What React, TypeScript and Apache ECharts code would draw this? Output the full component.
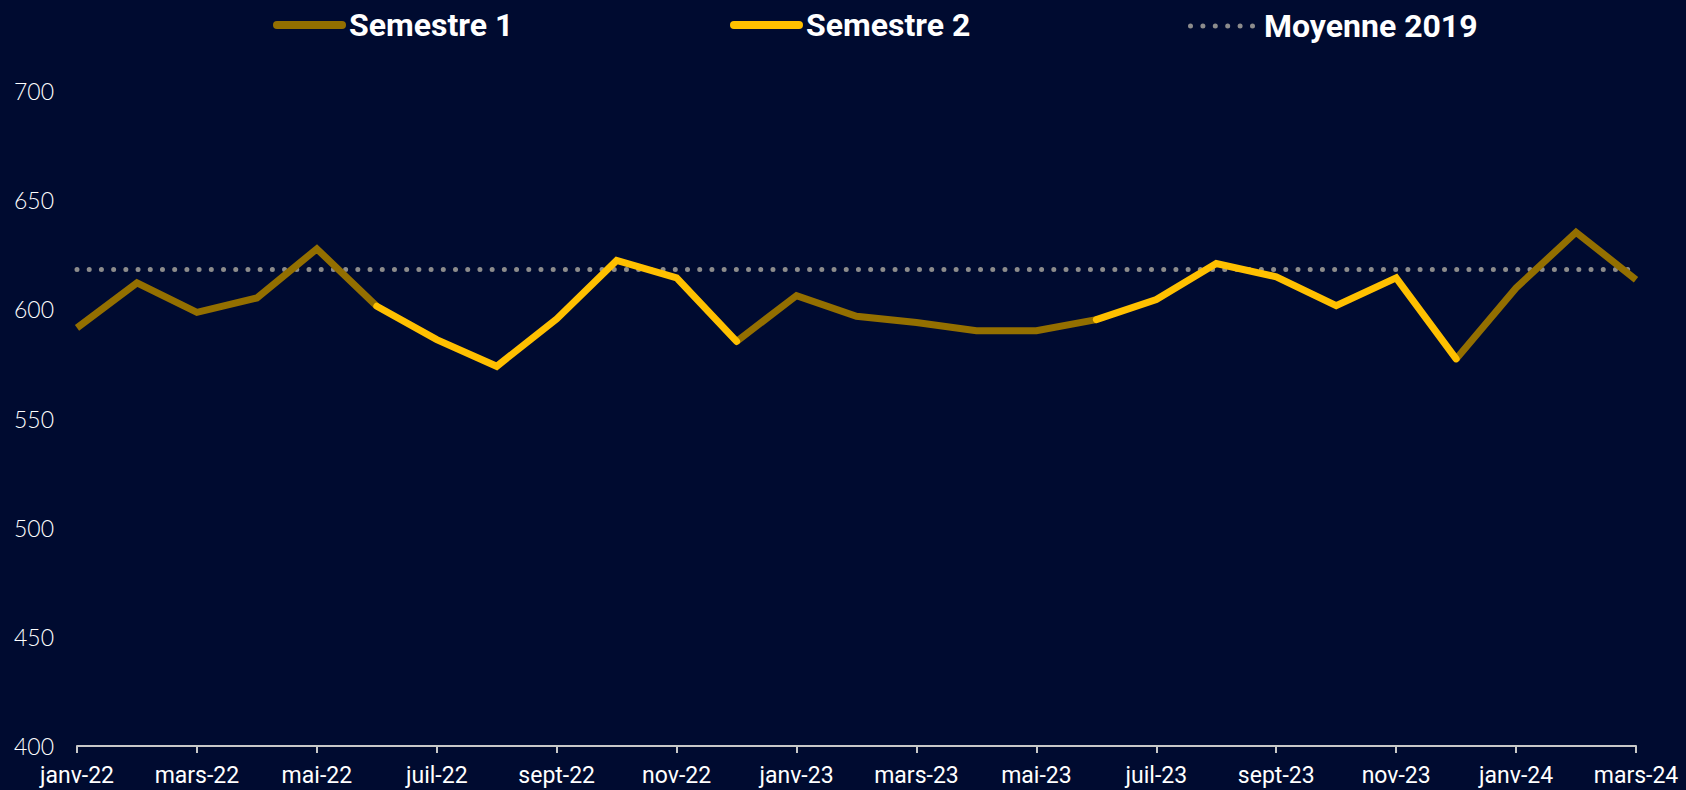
import React, { useEffect, useRef } from "react";
import * as echarts from "echarts";

const categories = [
  "janv-22", "févr-22", "mars-22", "avr-22", "mai-22", "juin-22",
  "juil-22", "août-22", "sept-22", "oct-22", "nov-22", "déc-22",
  "janv-23", "févr-23", "mars-23", "avr-23", "mai-23", "juin-23",
  "juil-23", "août-23", "sept-23", "oct-23", "nov-23", "déc-23",
  "janv-24", "févr-24", "mars-24",
];

const semestre1 = [
  591.5, 612.1, 598.6, 605.2, 627.7, 601.4,
  null, null, null, null, null, 585.3,
  606.3, 596.8, 594.0, 590.2, 590.2, 595.3,
  null, null, null, null, null, 577.3,
  609.8, 635.3, 613.6,
];

const semestre2 = [
  null, null, null, null, null, 601.4,
  586.1, 573.9, 595.6, 622.4, 614.4, 585.3,
  null, null, null, null, null, 595.3,
  604.5, 621.0, 614.9, 601.7, 614.4, 577.3,
  null, null, null,
];

const moyenne2019 = 618.2;

const yMin = 400;
const yMax = 700;
const yInterval = 50;

const BG = "#000b30";
const BROWN = "#936f00";
const YELLOW = "#ffc000";
const GREY = "#8c8c8c";

const CAPSULE = "path://M4,0 L70,0 A4,4 0 0 1 70,8 L4,8 A4,4 0 0 1 4,0 Z";
function dotsPath(n: number, spacing: number, r: number) {
  let d = "path://";
  for (let i = 0; i < n; i++) {
    const cx = r + i * spacing;
    d += `M${cx - r},${r} A${r},${r} 0 1 0 ${cx + r},${r} A${r},${r} 0 1 0 ${cx - r},${r} Z `;
  }
  return d;
}
const DOTS = dotsPath(6, 12.4, 2.5);

export default function App() {
  const ref = useRef<HTMLDivElement>(null);

  useEffect(() => {
    document.body.style.margin = "0";
    if (!ref.current) return;
    const chart = echarts.init(ref.current, undefined, { renderer: "svg" });
    const legendText = {
      color: "#ffffff",
      fontFamily: "Roboto",
      fontWeight: "bold" as const,
      fontSize: 32,
      padding: [0, 0, 0, -2],
    };
    chart.setOption({
      animation: false,
      backgroundColor: BG,
      grid: { left: 77, right: 50, top: 91, bottom: 44, containLabel: false },
      legend: [
        {
          data: [{ name: "Semestre 1", icon: CAPSULE }],
          left: 268,
          top: 4,
          itemWidth: 73,
          itemHeight: 8,
          textStyle: legendText,
        },
        {
          data: [{ name: "Semestre 2", icon: CAPSULE }],
          left: 725,
          top: 4,
          itemWidth: 73,
          itemHeight: 8,
          textStyle: legendText,
        },
        {
          data: [{ name: "Moyenne 2019", icon: DOTS }],
          left: 1183,
          top: 5,
          itemWidth: 67,
          itemHeight: 5,
          textStyle: { ...legendText, padding: [0, 0, 0, 4] },
        },
      ],
      xAxis: {
        type: "category",
        data: categories,
        boundaryGap: false,
        axisLine: { show: true, lineStyle: { color: "#c8c8c8", width: 2 } },
        axisTick: { show: true, interval: 1, length: 7, lineStyle: { color: "#c8c8c8", width: 2 } },
        axisLabel: {
          interval: 1,
          color: "#ffffff",
          fontFamily: "Roboto",
          fontSize: 23,
          margin: 18,
        },
        splitLine: { show: false },
      },
      yAxis: {
        type: "value",
        min: yMin,
        max: yMax,
        interval: yInterval,
        axisLine: { show: false },
        axisTick: { show: false },
        splitLine: { show: false },
        axisLabel: {
          color: "#ffffff",
          fontFamily: "Lato",
          fontWeight: 300,
          fontSize: 23,
          margin: 23,
        },
      },
      series: [
        {
          name: "Moyenne 2019",
          type: "line",
          data: categories.map(() => moyenne2019),
          symbol: "none",
          color: GREY,
          lineStyle: { color: GREY, width: 5, type: [0.01, 12.2], cap: "round" },
          z: 1,
        },
        {
          name: "Semestre 1",
          type: "line",
          data: semestre1,
          symbol: "none",
          color: BROWN,
          connectNulls: false,
          lineStyle: { color: BROWN, width: 7, cap: "butt", join: "miter" },
          z: 2,
        },
        {
          name: "Semestre 2",
          type: "line",
          data: semestre2,
          symbol: "none",
          color: YELLOW,
          connectNulls: false,
          lineStyle: { color: YELLOW, width: 7, cap: "round", join: "miter" },
          z: 3,
        },
      ],
    });
    return () => chart.dispose();
  }, []);

  return <div ref={ref} style={{ width: 1686, height: 790 }} />;
}
